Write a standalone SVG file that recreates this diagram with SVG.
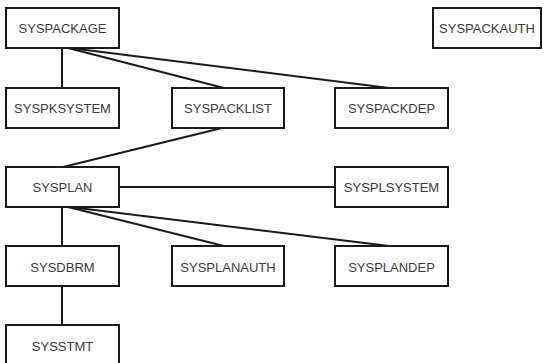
<svg xmlns="http://www.w3.org/2000/svg" width="544" height="363" viewBox="0 0 544 363">
  <style>
    .box { fill: #ffffff; stroke: #1a1a1a; stroke-width: 2; }
    .lbl { font-family: "Liberation Sans", Arial, sans-serif; font-size: 13px; fill: #3a3a3a; text-anchor: middle; }
    .conn { stroke: #1a1a1a; stroke-width: 2; fill: none; }
  </style>
  <rect width="544" height="363" fill="#ffffff"/>

  <!-- connectors -->
  <g id="connectors" class="conn">
    <line x1="62" y1="48" x2="62" y2="88"/>
    <line x1="68" y1="48" x2="224" y2="88"/>
    <line x1="70" y1="48" x2="389" y2="88"/>
    <line x1="222" y1="128" x2="63" y2="167"/>
    <line x1="119" y1="187" x2="335" y2="187"/>
    <line x1="62" y1="207" x2="62" y2="246"/>
    <line x1="68" y1="207" x2="224" y2="246"/>
    <line x1="70" y1="207" x2="389" y2="246"/>
    <line x1="62" y1="286" x2="62" y2="325"/>
  </g>

  <!-- nodes -->
  <g id="SYSPACKAGE">
    <rect class="box" x="6" y="8" width="113" height="40"/>
    <text class="lbl" x="62.5" y="33">SYSPACKAGE</text>
  </g>
  <g id="SYSPACKAUTH">
    <rect class="box" x="433" y="8" width="108" height="40"/>
    <text class="lbl" x="487" y="33">SYSPACKAUTH</text>
  </g>
  <g id="SYSPKSYSTEM">
    <rect class="box" x="6" y="88" width="113" height="40"/>
    <text class="lbl" x="62.5" y="113">SYSPKSYSTEM</text>
  </g>
  <g id="SYSPACKLIST">
    <rect class="box" x="172" y="88" width="112" height="40"/>
    <text class="lbl" x="228" y="113">SYSPACKLIST</text>
  </g>
  <g id="SYSPACKDEP">
    <rect class="box" x="335" y="88" width="113" height="40"/>
    <text class="lbl" x="391.5" y="113">SYSPACKDEP</text>
  </g>
  <g id="SYSPLAN">
    <rect class="box" x="6" y="167" width="113" height="40"/>
    <text class="lbl" x="62.5" y="192">SYSPLAN</text>
  </g>
  <g id="SYSPLSYSTEM">
    <rect class="box" x="335" y="167" width="113" height="40"/>
    <text class="lbl" x="391.5" y="192">SYSPLSYSTEM</text>
  </g>
  <g id="SYSDBRM">
    <rect class="box" x="6" y="246" width="113" height="40"/>
    <text class="lbl" x="62.5" y="272">SYSDBRM</text>
  </g>
  <g id="SYSPLANAUTH">
    <rect class="box" x="172" y="246" width="112" height="40"/>
    <text class="lbl" x="228" y="272">SYSPLANAUTH</text>
  </g>
  <g id="SYSPLANDEP">
    <rect class="box" x="335" y="246" width="113" height="40"/>
    <text class="lbl" x="391.5" y="272">SYSPLANDEP</text>
  </g>
  <g id="SYSSTMT">
    <rect class="box" x="6" y="325" width="113" height="40"/>
    <text class="lbl" x="62.5" y="351">SYSSTMT</text>
  </g>
</svg>
